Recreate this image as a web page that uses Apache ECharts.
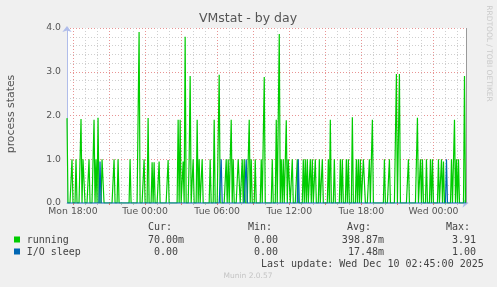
<!DOCTYPE html>
<html><head><meta charset="utf-8">
<script src="https://cdn.jsdelivr.net/npm/echarts@6/dist/echarts.min.js"></script>
<style>html,body{margin:0;padding:0;background:#f0f0f0}#c{width:497px;height:287px}</style>
</head><body><div id="c"></div>
<script>
// 5-minute samples from Mon 17:30 to Wed 02:45 (400 samples)
const dayNames = ['Mon', 'Tue', 'Wed'];
const startMinute = 17 * 60 + 30;
const sampleCount = 400;
const categories = [];
for (let i = 0; i < sampleCount; i++) {
  const m = startMinute + i * 5;
  const d = Math.floor(m / 1440), h = Math.floor((m % 1440) / 60), mm = m % 60;
  categories.push(dayNames[d] + ' ' + String(h).padStart(2, '0') + ':' + String(mm).padStart(2, '0'));
}
const tickLabels = ['Mon 18:00', 'Tue 00:00', 'Tue 06:00', 'Tue 12:00', 'Tue 18:00', 'Wed 00:00'];
const yTickLabels = ['0.0', '1.0', '2.0', '3.0', '4.0'];

const running = [
  1.94,0,0,0,0,1,0,0,0,1,0,0,0,0,1.92,0,1,1,0,0,
  0,0,1,0,0,0,0,1.9,0,1,0,1.95,0,0,0,1,1,0,0,0,
  0,0,0,0,0,0,0,1,0,0,0,1,0,0,0,0,0,0,0,0,
  0,0,0,1,0,0,0,0,0,0,0,0,3.91,0,0,0,0,1,0,0,
  0,1.94,0,0,0,0.93,0,0.93,0,0,0,0,0.95,0,0,0,0,0,0,0,
  0,0.98,0,0,0,0,0,0,0,0,0,1.9,0,1.9,0,0,0.95,0,3.8,0,
  0,0,1,2.9,0,0,1,0,0,0,1.9,0,1,0,0,1,0,0,0,0,
  0,0,0,1,0,0,0,1.9,0,0,0,0,2.93,0,0,0,0,0,0,1,
  0,1,0,0,1.9,0,1,0,0,0,0,1,1,0,0,1,0,1,0,0,
  0,1,1.9,0,1,0,0,0,1,0,0,0,0,0,1,0,0,2.88,0,0,
  0,0,0,0,0,1,0,0,0,1.9,0,0,3.86,0,1,0,1,0,0,1.89,
  0,1,1,0,0,1,0,0,0,0,1,0,0,0,0,0,1,0,1,0,
  1,0,0,1,0,1,0,0,1,0,0,0,1,0,0,1,0,0,0,0,
  0,1,0,1.9,0,0,0,1,0,0,0,0,0,1,0,1,0,0,0,1,
  0,1,0,0,0,1.96,0,0,0,1,0,1,0,1,0,0,1,1,0,0,
  0,0,1,0,1,1.9,0,0,0,0,0,0,0,0,0,0,0,1,0,0,
  0,0,1,0,0,0,0,0,0,2.95,0,0,2.95,0,0,0,0,0,0,0,
  0,1,0,0,0,0,0,0,0,0,1.95,0,0,1,0,1,0,0,0,1,
  0,0,0,1,0,1,0,0,0,0,0,1,0,0,1,0,0.95,0,0,0,
  0,0,0,0,1,0,0,1.9,0,1,0,1,0,0,0,0,0,2.9,0,0.07
];
const ioSleep = [
  0,0,0,0,0,0,0,0,0,0,0,0,0,0,0,0,0,0,0,0,
  0,0,0,0,0,0,0,0,0,0,0,0,0,0.95,0,0,0,0,0,0,
  0,0,0,0,0,0,0,0,0,0,0,0,0,0,0,0,0,0,0,0,
  0,0,0,0,0,0,0,0,0,0,0,0,0,0,0,0,0,0,0,0,
  0,0,0,0,0,0,0,0,0,0,0,0,0,0,0,0,0,0,0,0,
  0,0,0,0,0,0,0,0,0,0,0,0,0,0,0,0,0,0,0,0,
  0,0,0,0,0,0,0,0,0,0,0,0,0,0,0,0,0,0,0,0,
  0,0,0,0,0,0,0,0,0,0,0,0,0,0,1,0,0,0,0,0,
  0,0,0,0,0,0,0,0,0,0,0,0,0,0,0,0,0,0,0,1,
  0,0,0,0,0,0,0,0,0,0,0,0,0,0,0,0,0,0,0,0,
  0,0,0,0,0,0,0,0,0,0,0,0,0,0,0,0,0,0,0,0,
  0,0,0,0,0,0,0,0,0,0,0,1,0,0,0,0,0,0,0,0,
  0,0,0,0,0,0,0,0,0,0,0,0,0,0,0,0,0,0,0,0,
  0,0,0,0,0,0,0,0,0,0,0,0,0,0,0,0,0,0,0,0,
  0,0,0,0,0,0,0,0,0,0,0,0,0,0,0,0,0,0,0,0,
  0,0,0,0,0,0,0,0,0,0,0,0,0,0,0,0,0,0,0,0,
  0,0,0,0,0,0,0,0,0,0,0,0,0,0,0,0,0,0,0,0,
  0,0,0,0,0,0,0,0,0,0,0,0,0,0,0,0,0,0,0,0,
  0,0,0,0,0,0,0,0,0,0,0,0,0,0,0,0,0,0,0,1,
  0,0,0,0,0,0,0,0,0,0,0,0,0,0,0,0,0,0,0,0
];
const legendNames = ['running', 'I/O sleep'];
const statHeaders = ['Cur:', 'Min:', 'Avg:', 'Max:'];
const runningStats = ['70.00m', '0.00', '398.87m', '3.91'];
const ioSleepStats = ['0.00', '0.00', '17.48m', '1.00'];
const lastUpdate = 'Last update: Wed Dec 10 02:45:00 2025';

const isHour = v => v.endsWith(':00');
const hourOf = v => parseInt(v.slice(4, 6), 10);
const isMajor = v => isHour(v) && hourOf(v) % 3 === 0;
const isMinor = v => isHour(v) && hourOf(v) % 3 !== 0;

const SANS = '"DejaVu Sans"';
const MONO = '"DejaVu Sans Mono"';
const axisBlue = '#b0bdea';
const majorColor = '#e89494';
const minorColor = '#cfcfcf';

function txt(text, x, y, opts) {
  opts = opts || {};
  return {
    type: 'text', x: x, y: y, rotation: opts.rotation || 0, silent: true,
    style: {
      text: text, font: opts.font || ('10px ' + MONO), fill: opts.fill || '#444',
      align: opts.align || 'left', textAlign: opts.align || 'left',
      verticalAlign: 'middle', textVerticalAlign: 'middle'
    }
  };
}

const colX = [172, 272, 371, 470];
const rowX1 = [184, 278, 384, 476];
const rowX2 = [178, 278, 384, 476];
const graphics = [
  txt('VMstat - by day', 248, 19, {font: '12.5px ' + SANS, fill: '#555', align: 'center'}),
  txt('process states', 11.5, 114, {font: '10.9px ' + SANS, fill: '#555', align: 'center', rotation: Math.PI / 2}),
  txt('RRDTOOL / TOBI OETIKER', 488.5, 53.5, {font: '7.5px ' + SANS, fill: '#cacaca', align: 'center', rotation: -Math.PI / 2}),
  {type: 'rect', shape: {x: 14, y: 236.5, width: 6, height: 6}, style: {fill: '#00CC00'}, silent: true},
  {type: 'rect', shape: {x: 14, y: 248.5, width: 6, height: 6}, style: {fill: '#0066B3'}, silent: true},
  txt(legendNames[0], 26.7, 240),
  txt(legendNames[1], 26.7, 252),
  txt(lastUpdate, 261, 264),
  txt('Munin 2.0.57', 248, 276.5, {font: '7.5px ' + SANS, fill: '#c4c4c4', align: 'center'})
];
statHeaders.forEach((h, i) => graphics.push(txt(h, colX[i], 227.5, {align: 'right'})));
runningStats.forEach((s, i) => graphics.push(txt(s, rowX1[i], 240, {align: 'right'})));
ioSleepStats.forEach((s, i) => graphics.push(txt(s, rowX2[i], 252, {align: 'right'})));

const chart = echarts.init(document.getElementById('c'), null, {renderer: 'canvas'});
chart.setOption({
  animation: false,
  backgroundColor: '#f0f0f0',
  grid: {left: 67, right: 30.5, top: 28, bottom: 84, show: true, backgroundColor: '#ffffff', borderWidth: 0},
  xAxis: [
    {
      type: 'category', data: categories, boundaryGap: false, position: 'bottom',
      axisLine: {show: true, lineStyle: {color: axisBlue, width: 1}, symbol: ['none', 'arrow'], symbolSize: [7, 6], symbolOffset: [0, 2]},
      axisTick: {show: true, interval: (i, v) => isMajor(v), length: 2, lineStyle: {color: '#e87878'}},
      axisLabel: {interval: (i, v) => tickLabels.includes(v), formatter: v => v, fontFamily: SANS, fontSize: 9.3, color: '#555', margin: 4},
      splitLine: {show: true, interval: (i, v) => isMajor(v), lineStyle: {color: majorColor, type: [1, 2], width: 1}}
    },
    {
      type: 'category', data: categories, boundaryGap: false, position: 'bottom',
      axisLine: {show: false},
      axisTick: {show: true, interval: (i, v) => isMinor(v), length: 2, lineStyle: {color: '#bbbbbb'}},
      axisLabel: {show: false},
      splitLine: {show: true, interval: (i, v) => isMinor(v), lineStyle: {color: minorColor, type: [1, 2], width: 1}}
    }
  ],
  yAxis: {
    type: 'value', min: 0, max: 4, interval: 1,
    axisLine: {show: true, lineStyle: {color: axisBlue, width: 1}, symbol: ['none', 'arrow'], symbolSize: [7, 6], symbolOffset: [0, 2]},
    axisTick: {show: false},
    axisLabel: {formatter: v => yTickLabels[Math.round(v)], fontFamily: SANS, fontSize: 9.3, color: '#555', margin: 6},
    splitLine: {show: true, lineStyle: {color: majorColor, type: [1, 2], width: 1}},
    minorTick: {show: false, splitNumber: 5},
    minorSplitLine: {show: true, lineStyle: {color: minorColor, type: [1, 2], width: 1}}
  },
  series: [
    {
      name: legendNames[0], type: 'line', data: running, xAxisIndex: 0, showSymbol: false, symbol: 'none',
      lineStyle: {color: '#00CC00', width: 1.2}, itemStyle: {color: '#00CC00'}, z: 3,
      markLine: {silent: true, symbol: ['none', 'none'], label: {show: false},
        lineStyle: {color: '#999999', type: 'solid', width: 1}, data: [{xAxis: categories[sampleCount - 1]}]}
    },
    {
      name: legendNames[1], type: 'line', data: ioSleep, xAxisIndex: 0, showSymbol: false, symbol: 'none',
      lineStyle: {color: '#0066B3', width: 1.2}, itemStyle: {color: '#0066B3'}, z: 4
    }
  ],
  graphic: graphics
});
</script></body></html>
